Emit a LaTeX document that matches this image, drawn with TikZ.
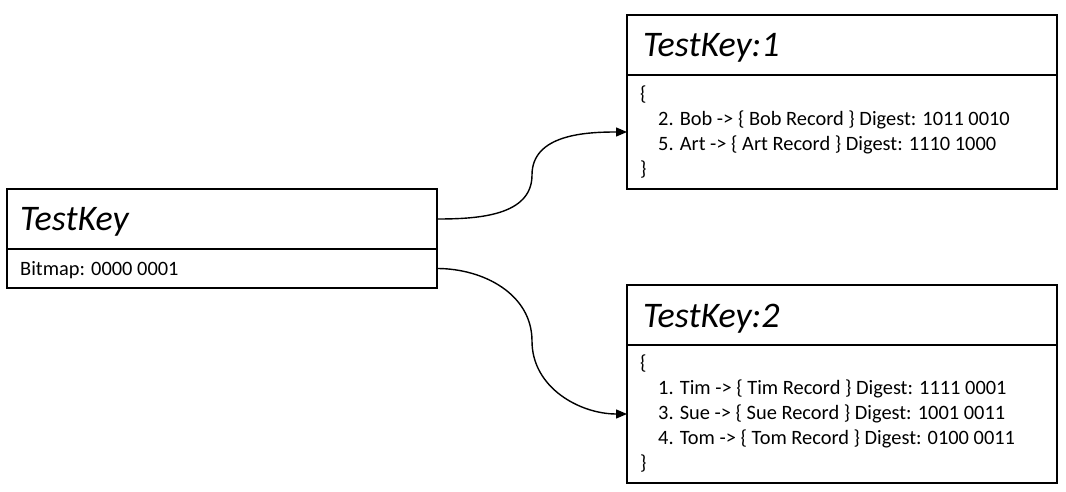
\documentclass[tikz,border=0pt]{standalone}
\usepackage{fontspec}
\setmainfont{Carlito}
\usetikzlibrary{arrows.meta}
\begin{document}
\begin{tikzpicture}[x=1pt,y=-1pt,
  sect/.style={draw=black,line width=1.4pt,rectangle,anchor=north west,inner sep=0pt,outer sep=0pt},
  ttl/.style={anchor=base west,inner sep=0pt,font=\fontsize{36}{42}\selectfont\itshape},
  bodytxt/.style={anchor=base west,inner sep=0pt,align=left,font=\fontsize{20.4}{25}\selectfont},
  conn/.style={line width=1.4pt,-{Triangle[length=11pt,width=9pt]}}]
\useasboundingbox (0,0) rectangle (1066,492);
% TestKey
\node[sect,minimum width=430,minimum height=60] (tkT) at (7,189) {};
\node[sect,minimum width=430,minimum height=39] (tkB) at (7,249) {};
\node[ttl] (tkTt) at (20,230) {TestKey};
\node[bodytxt] (tkBt) at (20,275) {Bitmap: 0000 0001};
% TestKey:1
\node[sect,minimum width=430,minimum height=60] (t1T) at (627,15) {};
\node[sect,minimum width=430,minimum height=114] (t1B) at (627,75) {};
\node[ttl] (t1Tt) at (643,57) {TestKey:1};
\node[bodytxt,anchor=north west] (t1Bt) at (640,86) {\{\\
\hspace{18pt}2. Bob -> \{ Bob Record \} Digest: 1011 0010\\
\hspace{18pt}5. Art -> \{ Art Record \} Digest: 1110 1000\\
\}};
% TestKey:2
\node[sect,minimum width=430,minimum height=60] (t2T) at (627,285) {};
\node[sect,minimum width=430,minimum height=138] (t2B) at (627,345) {};
\node[ttl] (t2Tt) at (643,327) {TestKey:2};
\node[bodytxt,anchor=north west] (t2Bt) at (640,355) {\{\\
\hspace{18pt}1. Tim -> \{ Tim Record \} Digest: 1111 0001\\
\hspace{18pt}3. Sue -> \{ Sue Record \} Digest: 1001 0011\\
\hspace{18pt}4. Tom -> \{ Tom Record \} Digest: 0100 0011\\
\}};
% connectors
\coordinate (m1) at (532,175);
\coordinate (m2) at (532,341);
\draw[conn] (tkT.east) to[out=0,in=-90] (m1) to[out=90,in=180] (t1B.west);
\draw[conn] (tkB.east) to[out=0,in=90] (m2) to[out=-90,in=180] (t2B.west);
\end{tikzpicture}
\end{document}
